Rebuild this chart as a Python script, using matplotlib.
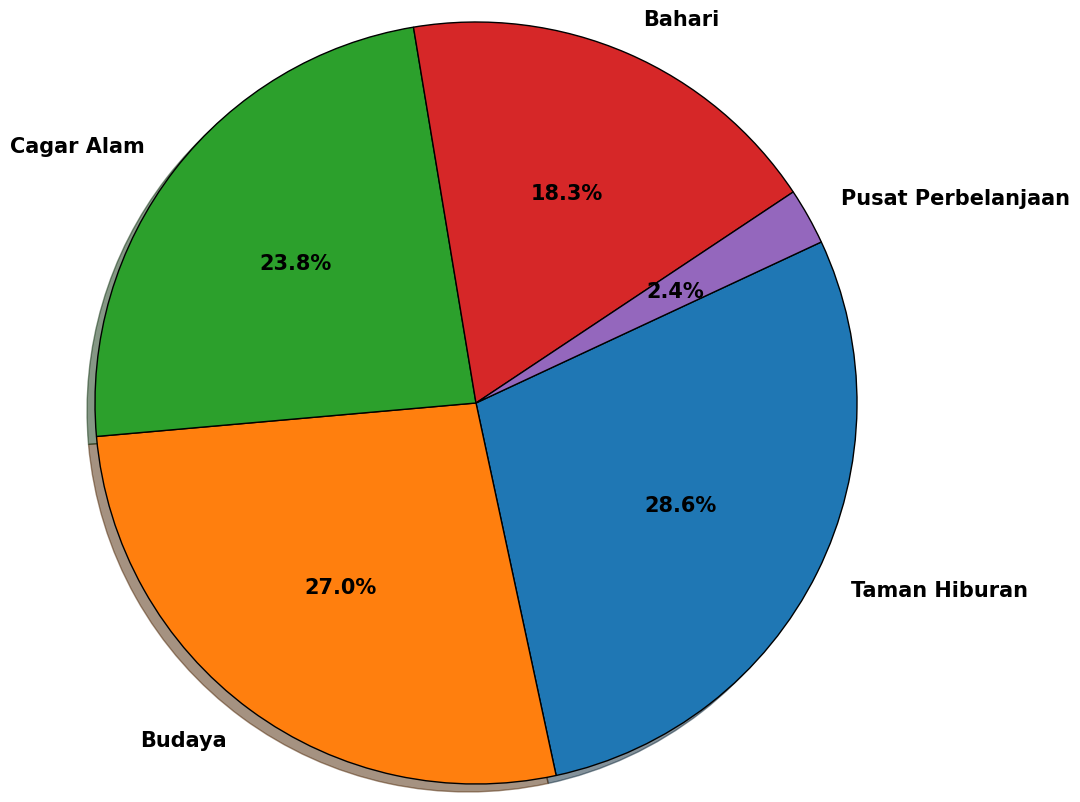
import matplotlib
matplotlib.use("Agg")
import matplotlib.pyplot as plt

categories = ['Taman Hiburan', 'Budaya', 'Cagar Alam', 'Bahari', 'Pusat Perbelanjaan']
shares = [28.6, 27.0, 23.8, 18.3, 2.4]
colors = ['#1f77b4', '#ff7f0e', '#2ca02c', '#d62728', '#9467bd']

fig = plt.figure(figsize=(10.8, 8.03), dpi=100)
ax = fig.add_axes([95 / 1080, 18 / 803, 762 / 1080, 762 / 803])

# shadow offset a bit smaller than default to match the reference
wedges, texts, autotexts = ax.pie(
    shares, labels=categories, colors=colors, autopct='%1.1f%%',
    startangle=25, counterclock=False,
    shadow={'ox': -0.015, 'oy': -0.015},
    wedgeprops={'edgecolor': 'black', 'linewidth': 1},
    textprops={'fontsize': 15, 'fontweight': 'bold'},
)
ax.set_xlim(-1, 1)
ax.set_ylim(-1, 1)
ax.set_aspect('equal')
ax.axis('off')

fig.savefig('out.png', dpi=100)
